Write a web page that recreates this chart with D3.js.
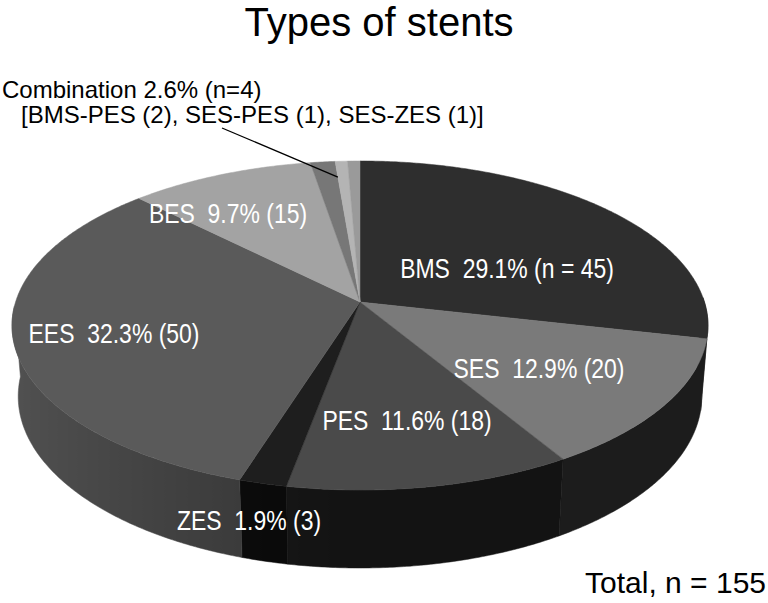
<!DOCTYPE html>
<html>
<head>
<meta charset="utf-8">
<script src="https://cdn.jsdelivr.net/npm/d3@7"></script>
<style>
  body { margin: 0; background: #fff; }
  svg { display: block; }
  text { font-family: "Liberation Sans", Arial, sans-serif; }
</style>
</head>
<body>
<div id="chart"></div>
<script>
// data
var categories = ["BMS", "SES", "PES", "ZES", "EES", "BES", "BMS-PES", "SES-PES", "SES-ZES"];
var counts = [45, 20, 18, 3, 50, 15, 2, 1, 1];
var percents = [29.1, 12.9, 11.6, 1.9, 32.3, 9.7, null, null, null];
var labelled = ["BMS", "SES", "PES", "ZES", "EES", "BES"];
var comboParts = ["BMS-PES", "SES-PES", "SES-ZES"];
var comboPercent = 2.6;

// styles
var topColors = ["#2e2e2e", "#7a7a7a", "#4a4a4a", "#1e1e1e", "#5a5a5a", "#a3a3a3", "#777777", "#b4b4b4", "#9a9a9a"];
var sideColors = ["#333333", "#2f2f2f", "#1f1f1f", "#0f0f0f", "#525252", "#909090", "#666666", "#999999", "#888888"];
var labelPos = {BMS: [507, 268], SES: [539, 368], PES: [407, 420], ZES: [249, 520], EES: [114, 333], BES: [228, 213]};

var width = 768, height = 603;
var total = d3.sum(counts);

var svg = d3.select("#chart").append("svg")
    .attr("width", width)
    .attr("height", height);
var defs = svg.append("defs");

// 3D projection of the pie (perspective, seen from above)
var cx = 360, cy = 302, D = 6.184, f = 2130, depth = 0.235,
    alpha = 27.9 * Math.PI / 180,
    warp = 2.2 * Math.PI / 180;   // small angular distortion of the 3D view

function view(theta) { return theta - warp * Math.sin(theta / 2); }
function project(theta, r, y) {
  var t = view(theta);
  var x = r * Math.sin(t), z = -r * Math.cos(t);
  var w = D - z * Math.cos(alpha) - y * Math.sin(alpha);
  var u = y * Math.cos(alpha) - z * Math.sin(alpha);
  return [cx + f * x / w, cy - f * u / w];
}
function light(theta) { return 0.6 + 0.4 * Math.max(0, -Math.sin(view(theta))); }

var pie = d3.pie().sort(null).value(function(d) { return d; });
var arcs = pie(counts);
arcs.forEach(function(a, i) { a.name = categories[i]; a.i = i; });

var line = d3.line();
var step = 0.5 * Math.PI / 180;
function angles(a0, a1) {
  var n = Math.max(2, Math.ceil((a1 - a0) / step)), out = [];
  for (var k = 0; k <= n; k++) out.push(a0 + (a1 - a0) * k / n);
  return out;
}

// side walls: only the front half can be seen
var front = [Math.PI / 2, 3 * Math.PI / 2];
var walls = arcs.map(function(a) {
  return {i: a.i, a0: Math.max(a.startAngle, front[0]), a1: Math.min(a.endAngle, front[1])};
}).filter(function(s) { return s.a1 > s.a0; });

walls.forEach(function(s) {
  var ts = angles(s.a0, s.a1);
  var xs = ts.map(function(t) { return project(t, 1, 0)[0]; });
  var x0 = d3.min(xs), x1 = d3.max(xs);
  var g = defs.append("linearGradient")
      .attr("id", "wall" + s.i)
      .attr("gradientUnits", "userSpaceOnUse")
      .attr("x1", x0).attr("x2", x1).attr("y1", 0).attr("y2", 0);
  var stops = ts.map(function(t, k) {
    return {o: x1 > x0 ? (xs[k] - x0) / (x1 - x0) : 0,
            c: d3.interpolateRgb("#000", sideColors[s.i])(light(t))};
  }).sort(function(a, b) { return a.o - b.o; });
  g.selectAll("stop").data(stops).enter().append("stop")
      .attr("offset", function(d) { return d.o; })
      .attr("stop-color", function(d) { return d.c; });
  s.pts = ts.map(function(t) { return project(t, 1, 0); })
      .concat(ts.slice().reverse().map(function(t) { return project(t, 1, -depth); }));
});

svg.append("g")
  .selectAll("path")
  .data(walls)
  .enter()
  .append("path")
    .attr("d", function(s) { return line(s.pts) + "Z"; })
    .attr("fill", function(s) { return "url(#wall" + s.i + ")"; })
    .attr("stroke", function(s) { return "url(#wall" + s.i + ")"; })
    .attr("stroke-width", 0.5);

// top faces
svg.append("g")
  .selectAll("path")
  .data(arcs)
  .enter()
  .append("path")
    .attr("d", function(a) {
      var pts = [project(0, 0, 0)].concat(angles(a.startAngle, a.endAngle).map(function(t) { return project(t, 1, 0); }));
      return line(pts) + "Z";
    })
    .attr("fill", function(a) { return topColors[a.i]; })
    .attr("stroke", function(a) { return topColors[a.i]; })
    .attr("stroke-width", 0.5)
    .attr("stroke-linejoin", "round");

// slice labels (narrow lettering as in the original)
svg.append("g")
  .selectAll("text")
  .data(arcs.filter(function(a) { return labelled.indexOf(a.name) >= 0; }))
  .enter()
  .append("text")
    .attr("transform", function(a) { return "translate(" + labelPos[a.name] + ") scale(0.82,1)"; })
    .attr("text-anchor", "middle")
    .attr("dy", "0.36em")
    .attr("fill", "#fff")
    .style("font-size", "28px")
    .style("white-space", "pre")
    .text(function(a) {
      var pct = percents[a.i].toFixed(1) + "%";
      return a.name + "  " + pct + (a.name === "BMS" ? " (n = " + a.data + ")" : " (" + a.data + ")");
    });

// combination callout
var combo = arcs.filter(function(a) { return comboParts.indexOf(a.name) >= 0; });
var comboN = d3.sum(combo, function(a) { return a.data; });
var comboMid = (d3.min(combo, function(a) { return a.startAngle; }) + d3.max(combo, function(a) { return a.endAngle; })) / 2;
var tip = project(comboMid, 0.875, 0);

svg.append("line")
    .attr("x1", 222).attr("y1", 128)
    .attr("x2", tip[0]).attr("y2", tip[1])
    .attr("stroke", "#000")
    .attr("stroke-width", 1.3);

svg.append("text")
    .attr("x", 2).attr("y", 98)
    .style("font-size", "24px")
    .text("Combination " + comboPercent.toFixed(1) + "% (n=" + comboN + ")");
svg.append("text")
    .attr("x", 21).attr("y", 123)
    .style("font-size", "24px")
    .text("[" + combo.map(function(a) { return a.name + " (" + a.data + ")"; }).join(", ") + "]");

// title and total
svg.append("text")
    .attr("x", 379).attr("y", 36)
    .attr("text-anchor", "middle")
    .style("font-size", "40px")
    .text("Types of stents");

svg.append("text")
    .attr("x", 766).attr("y", 593)
    .attr("text-anchor", "end")
    .style("font-size", "30px")
    .text("Total, n = " + total);
</script>
</body>
</html>
